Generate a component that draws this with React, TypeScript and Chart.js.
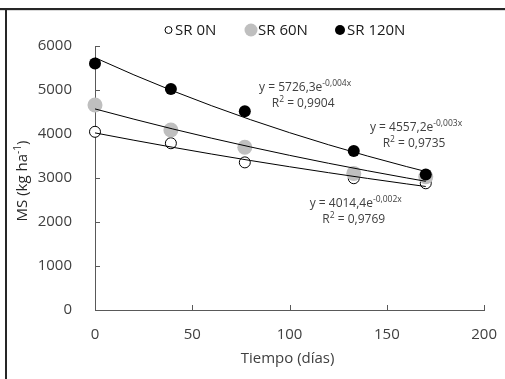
import React, { useEffect, useRef } from "react";
import { Chart, registerables } from "chart.js";

Chart.register(...registerables);

// ---- data ----
const days = [0, 39, 77, 133, 170];
const sr0N = [4050, 3790, 3355, 2995, 2880];
const sr60N = [4660, 4090, 3700, 3105, 3030];
const sr120N = [5600, 5025, 4515, 3615, 3080];

// fitted exponential trend lines
const trendDays = [0, 20, 40, 60, 80, 100, 120, 140, 160, 170];
const trend0N = [4025, 3858, 3698, 3544, 3397, 3256, 3121, 2991, 2867, 2807];
const trend60N = [4570, 4337, 4114, 3904, 3705, 3515, 3335, 3165, 3003, 2925];
const trend120N = [5734, 5344, 4980, 4641, 4324, 4030, 3756, 3500, 3261, 3148];

const seriesNames = ["SR 0N", "SR 60N", "SR 120N"];
const eqBase = ["y = 4014,4e", "y = 4557,2e", "y = 5726,3e"];
const eqExp = ["-0,002x", "-0,003x", "-0,004x"];
const r2Values = ["0,9769", "0,9735", "0,9904"];

const xTicks = [0, 50, 100, 150, 200];
const yTicks = [0, 1000, 2000, 3000, 4000, 5000, 6000];
const xTitle = "Tiempo (días)";
const yTitleMain = "MS (kg ha";
const yTitleSup = "-1";

const FONT = "'Open Sans', sans-serif";
const TEXT = "#404040";
const AXIS = "#595959";

type Part = { t: string; size: number; dy: number };

function drawRich(ctx: CanvasRenderingContext2D, parts: Part[], cx: number, y: number, color: string) {
  let total = 0;
  const widths = parts.map((p) => {
    ctx.font = `${p.size}px ${FONT}`;
    const w = ctx.measureText(p.t).width;
    total += w;
    return w;
  });
  let x = cx - total / 2;
  ctx.fillStyle = color;
  ctx.textAlign = "left";
  parts.forEach((p, i) => {
    ctx.font = `${p.size}px ${FONT}`;
    ctx.fillText(p.t, x, y + p.dy);
    x += widths[i];
  });
}

const overlayPlugin = {
  id: "overlay",
  beforeDraw(chart: any) {
    const ctx = chart.ctx as CanvasRenderingContext2D;
    ctx.save();
    ctx.fillStyle = "#ffffff";
    ctx.fillRect(0, 0, chart.width, chart.height);
    ctx.restore();
  },
  beforeDatasetsDraw(chart: any) {
    const ctx = chart.ctx as CanvasRenderingContext2D;
    const xs = chart.scales.x;
    const ys = chart.scales.y;
    const area = chart.chartArea;
    ctx.save();
    ctx.strokeStyle = AXIS;
    ctx.lineWidth = 1;
    ctx.beginPath();
    xTicks.forEach((v) => {
      if (v === 0) return;
      const px = Math.round(xs.getPixelForValue(v)) + 0.5;
      ctx.moveTo(px, area.bottom);
      ctx.lineTo(px, area.bottom - 5);
    });
    yTicks.forEach((v) => {
      if (v === 0) return;
      const py = Math.round(ys.getPixelForValue(v)) + 0.5;
      ctx.moveTo(area.left, py);
      ctx.lineTo(area.left + 5, py);
    });
    ctx.stroke();
    ctx.restore();
  },
  afterDraw(chart: any) {
    const ctx = chart.ctx as CanvasRenderingContext2D;
    const xs = chart.scales.x;
    const ys = chart.scales.y;
    const area = chart.chartArea;
    ctx.save();

    // frame
    ctx.fillStyle = "#262626";
    ctx.fillRect(0, 8, chart.width, 2);
    ctx.fillStyle = "#d9d9d9";
    ctx.fillRect(0, 10, chart.width, 1);
    ctx.fillStyle = "#262626";
    ctx.fillRect(5, 8, 2, chart.height - 8);

    // legend
    const legY = 30;
    const legend = [
      { cx: 168.5, r: 3.5, fill: "#ffffff", stroke: "#000000", tx: 175 },
      { cx: 251, r: 6.5, fill: "#bfbfbf", stroke: null, tx: 258 },
      { cx: 340, r: 5, fill: "#000000", stroke: null, tx: 347 },
    ];
    legend.forEach((l, i) => {
      ctx.beginPath();
      ctx.arc(l.cx, legY, l.r, 0, Math.PI * 2);
      ctx.fillStyle = l.fill;
      ctx.fill();
      if (l.stroke) {
        ctx.strokeStyle = l.stroke;
        ctx.lineWidth = 1;
        ctx.stroke();
      }
      ctx.font = `15px ${FONT}`;
      ctx.fillStyle = "#1a1a1a";
      ctx.textAlign = "left";
      ctx.textBaseline = "middle";
      ctx.fillText(seriesNames[i], l.tx, legY + 1);
    });

    // x title
    ctx.textBaseline = "middle";
    ctx.textAlign = "center";
    ctx.font = `15px ${FONT}`;
    ctx.fillStyle = TEXT;
    ctx.fillText(xTitle, (area.left + area.right) / 2 - 2, 359);

    // y title (rotated, with superscript)
    ctx.save();
    ctx.translate(23, (area.top + area.bottom) / 2 + 3);
    ctx.rotate(-Math.PI / 2);
    ctx.textBaseline = "middle";
    drawRich(
      ctx,
      [
        { t: yTitleMain, size: 15, dy: 0 },
        { t: yTitleSup, size: 10, dy: -5 },
        { t: ")", size: 15, dy: 0 },
      ],
      0,
      0,
      "#262626"
    );
    ctx.restore();

    // equations
    const anchors = [
      { x: 134, y: 2430 },
      { x: 165, y: 4160 },
      { x: 108, y: 5070 },
    ];
    ctx.textBaseline = "alphabetic";
    anchors.forEach((a, i) => {
      const cx = xs.getPixelForValue(a.x);
      const cy = ys.getPixelForValue(a.y);
      drawRich(
        ctx,
        [
          { t: eqBase[i], size: 12, dy: 0 },
          { t: eqExp[i], size: 8.5, dy: -5 },
        ],
        cx,
        cy + 4,
        TEXT
      );
      drawRich(
        ctx,
        [
          { t: "R", size: 12, dy: 0 },
          { t: "2", size: 8.5, dy: -5 },
          { t: " = " + r2Values[i], size: 12, dy: 0 },
        ],
        cx - 2,
        cy + 20,
        TEXT
      );
    });
    ctx.restore();
  },
};

function pts(xv: number[], yv: number[]) {
  return xv.map((x, i) => ({ x, y: yv[i] }));
}

export default function App() {
  const ref = useRef<HTMLCanvasElement | null>(null);

  useEffect(() => {
    if (!ref.current) return;
    const trendStyle = {
      showLine: true,
      borderColor: "#000000",
      borderWidth: 1,
      pointRadius: 0,
      fill: false,
      order: 0,
      clip: false as any,
    };
    const chart = new Chart(ref.current, {
      type: "scatter",
      data: {
        datasets: [
          {
            label: seriesNames[0],
            data: pts(days, sr0N),
            backgroundColor: "#ffffff",
            borderColor: "#000000",
            borderWidth: 1,
            pointRadius: 5.5,
            order: 3,
            clip: false as any,
          },
          {
            label: seriesNames[1],
            data: pts(days, sr60N),
            backgroundColor: "#bfbfbf",
            borderColor: "#bfbfbf",
            borderWidth: 0,
            pointRadius: 7.5,
            order: 2,
            clip: false as any,
          },
          {
            label: seriesNames[2],
            data: pts(days, sr120N),
            backgroundColor: "#000000",
            borderColor: "#000000",
            borderWidth: 0,
            pointRadius: 6,
            order: 1,
            clip: false as any,
          },
          { label: "t0", data: pts(trendDays, trend0N), ...trendStyle },
          { label: "t60", data: pts(trendDays, trend60N), ...trendStyle },
          { label: "t120", data: pts(trendDays, trend120N), ...trendStyle },
        ] as any,
      },
      options: {
        animation: false,
        responsive: false,
        devicePixelRatio: 1,
        layout: { padding: { top: 46, right: 20, left: 0, bottom: 0 } },
        plugins: {
          legend: { display: false },
          tooltip: { enabled: false },
        },
        scales: {
          x: {
            type: "linear",
            min: 0,
            max: 200,
            afterBuildTicks: (s: any) => {
              s.ticks = xTicks.map((v) => ({ value: v }));
            },
            afterFit: (s: any) => {
              s.height = 69;
            },
            grid: { display: false },
            border: { display: true, color: AXIS, width: 1 },
            ticks: {
              color: TEXT,
              font: { family: FONT, size: 15 },
              padding: 8,
              maxRotation: 0,
              callback: (v: any) => String(v),
            },
          },
          y: {
            type: "linear",
            min: 0,
            max: 6000,
            afterBuildTicks: (s: any) => {
              s.ticks = yTicks.map((v) => ({ value: v }));
            },
            afterFit: (s: any) => {
              s.width = 95;
            },
            grid: { display: false },
            border: { display: true, color: AXIS, width: 1 },
            ticks: {
              color: TEXT,
              font: { family: FONT, size: 15 },
              padding: 15,
              callback: (v: any) => String(v),
            },
          },
        },
      } as any,
      plugins: [overlayPlugin],
    });
    return () => chart.destroy();
  }, []);

  return (
    <div style={{ position: "fixed", left: 0, top: 0, width: 505, height: 379, background: "#fff" }}>
      <canvas ref={ref} width={505} height={379} style={{ display: "block" }} />
    </div>
  );
}
